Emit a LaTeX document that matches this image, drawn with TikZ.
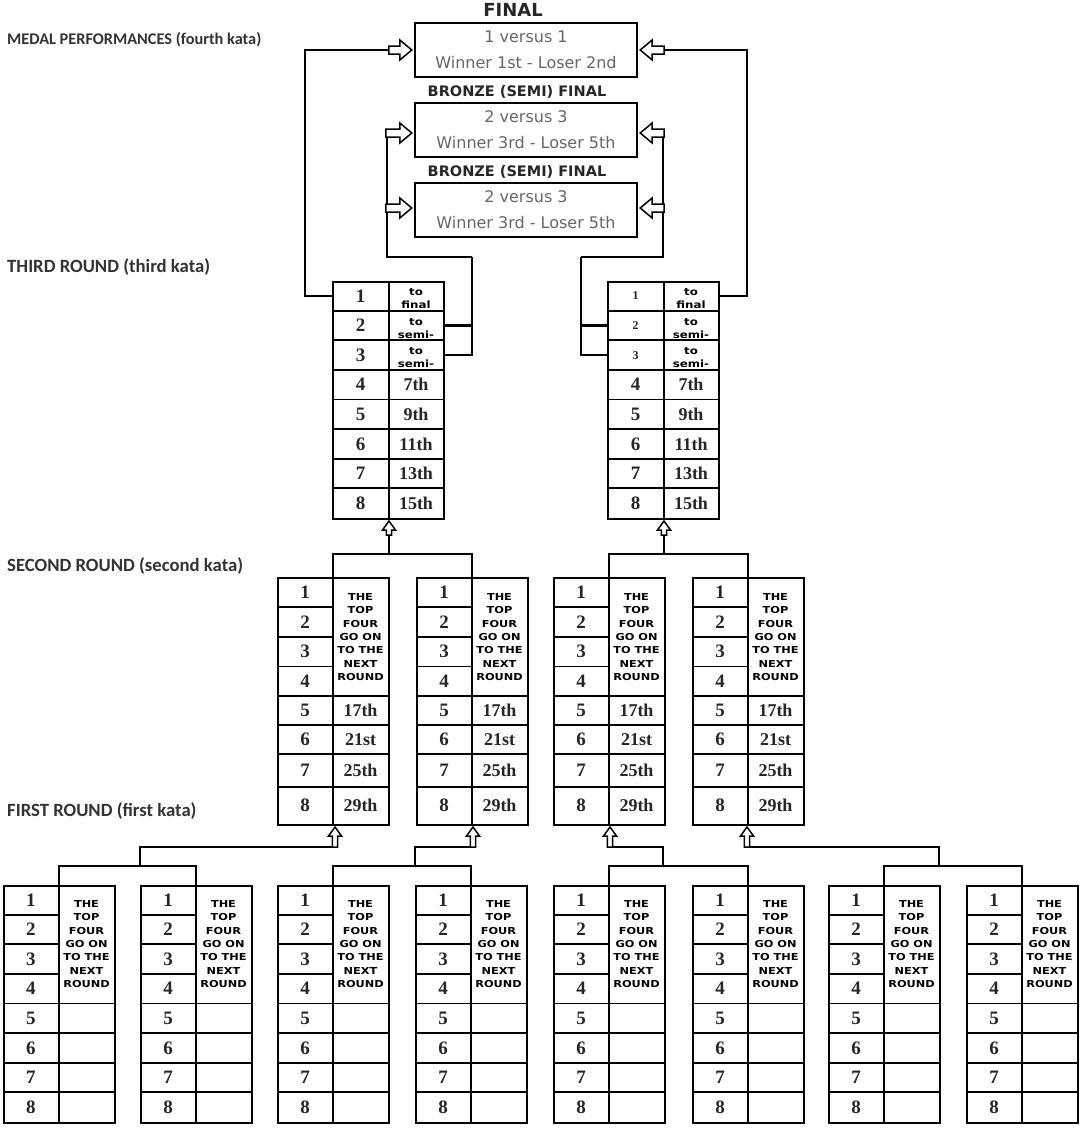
\documentclass[tikz,border=0pt]{standalone}
\usepackage{fontspec}
\setmainfont{Liberation Serif}
\newfontfamily\dvfont{DejaVu Sans}
\newfontfamily\widefont[FakeStretch=1.18]{DejaVu Sans}
\newfontfamily\lblfont{Carlito}
\usetikzlibrary{calc}
\tikzset{
  tframe/.style={draw, line width=2.4pt, minimum width=111pt, inner sep=0pt, anchor=north west},
  tline/.style={line width=1.9pt},
  conn/.style={line width=2.3pt, line join=miter},
  hollow/.style={draw, fill=white, line width=1.5pt, line join=miter},
  num/.style={font=\fontsize{19}{19}\selectfont\bfseries, text=black!85, inner sep=0pt},
  numsm/.style={font=\fontsize{12}{12}\selectfont\bfseries, text=black!85, inner sep=0pt},
  plc/.style={font=\fontsize{18}{18}\selectfont\bfseries, text=black!85, inner sep=0pt},
  topfour/.style={font=\widefont\bfseries\fontsize{9.6}{13.3}\selectfont, align=center, inner sep=0pt, text=black},
  tinytxt/.style={font=\widefont\bfseries\fontsize{10}{13}\selectfont, align=center, inner sep=0pt, text=black},
  lbl/.style={font=\lblfont\bfseries\fontsize{16.3}{16.3}\selectfont, text=black!80, anchor=west, inner sep=0pt},
  lblbig/.style={font=\lblfont\bfseries\fontsize{18.7}{18.7}\selectfont, text=black!80, anchor=west, inner sep=0pt},
  ttl/.style={font=\dvfont\bfseries\fontsize{18}{18}\selectfont, text=black!85, inner sep=0pt},
  sttl/.style={font=\dvfont\bfseries\fontsize{14.5}{14.5}\selectfont, text=black!85, inner sep=0pt},
  matchbox/.style={draw, line width=2.4pt, minimum width=222pt, minimum height=54pt, align=center,
    font=\dvfont\fontsize{16}{26}\selectfont, text=black!60, inner sep=0pt},
  pics/uarr/.style={code={\draw[hollow] (0,0) -- (6.5,9) -- (2.6,9) -- (2.6,#1) -- (-2.6,#1) -- (-2.6,9) -- (-6.5,9) -- cycle;}},
  pics/rarr/.style={code={\draw[hollow] (0,0) -- (-12,-10) -- (-12,-4) -- (-#1,-4) -- (-#1,4) -- (-12,4) -- (-12,10) -- cycle;}},
  pics/larr/.style={code={\draw[hollow] (0,0) -- (12,-10) -- (12,-4) -- (#1,-4) -- (#1,4) -- (12,4) -- (12,10) -- cycle;}},
}
\begin{document}
\begin{tikzpicture}[x=1pt,y=-1pt]
\useasboundingbox (0,0) rectangle (1082,1128);
\fill[white] (0,0) rectangle (1082,1128);

% ---------- left labels ----------
\node[lbl] (l1) at (7,40) {MEDAL PERFORMANCES (fourth kata)};
\node[lblbig] (l2) at (7,267) {THIRD ROUND (third kata)};
\node[lblbig] (l3) at (7,566) {SECOND ROUND (second kata)};
\node[lblbig] (l4) at (7,811) {FIRST ROUND (first kata)};

% ---------- medal boxes ----------
\node[ttl] (ftitle) at (513,10) {FINAL};
\node[matchbox] (final) at (526,50) {1 versus 1\\Winner 1st - Loser 2nd};
\node[sttl] (b1title) at (517,92) {BRONZE (SEMI) FINAL};
\node[matchbox] (semi1) at (526,130) {2 versus 3\\Winner 3rd - Loser 5th};
\node[sttl] (b2title) at (517,172) {BRONZE (SEMI) FINAL};
\node[matchbox] (semi2) at (526,210) {2 versus 3\\Winner 3rd - Loser 5th};

% ---------- third round ----------
\foreach \i/\x in {1/332,2/607}{
  \node[tframe, minimum height=237pt] (T\i) at (\x,281) {};
  \coordinate (T\i-top) at (\x+57,281);
  \coordinate (T\i-bot) at (\x+57,518);
  \coordinate (T\i-r1w) at (\x,295.8);
  \coordinate (T\i-r1e) at (\x+111,295.8);
  \coordinate (T\i-r2w) at (\x,325.5);
  \coordinate (T\i-r2e) at (\x+111,325.5);
  \coordinate (T\i-r3w) at (\x,355.1);
  \coordinate (T\i-r3e) at (\x+111,355.1);
  \draw[tline] (T\i-top) -- (T\i-bot);
  \foreach \y in {310.6,340.3,369.9,399.5,429.1,458.8,488.4}
    \draw[tline] (\x,\y) -- (\x+111,\y);
  \foreach \r/\t/\y in {4/7th/384.7,5/9th/414.3,6/11th/444,7/13th/473.6,8/15th/503.2}{
    \node[num] (T\i-n\r) at (\x+28.5,\y) {\r};
    \node[plc] (T\i-p\r) at (\x+84,\y) {\t};
  }
  \begin{scope}
    \clip (\x+57,281) rectangle (\x+111,310.6);
    \node[tinytxt] (T\i-p1) at (\x+84,299) {to\\final};
  \end{scope}
  \begin{scope}
    \clip (\x+57,310.6) rectangle (\x+111,340.3);
    \node[tinytxt] (T\i-p2) at (\x+84,328.5) {to\\semi-};
  \end{scope}
  \begin{scope}
    \clip (\x+57,340.3) rectangle (\x+111,369.9);
    \node[tinytxt] (T\i-p3) at (\x+84,358) {to\\semi-};
  \end{scope}
}
\foreach \r/\y in {1/295.8,2/325.5,3/355.1}{
  \node[num] (T1-n\r) at (360.5,\y) {\r};
  \node[numsm] (T2-n\r) at (635.5,\y) {\r};
}

% ---------- second round ----------
\foreach \i/\x in {1/277,2/416,3/553,4/692}{
  \node[tframe, minimum height=247pt] (S\i) at (\x,577) {};
  \coordinate (S\i-top) at (\x+56,577);
  \coordinate (S\i-bot) at (\x+56,824);
  \draw[tline] (S\i-top) -- (S\i-bot);
  \foreach \y in {607,637,666.5} \draw[tline] (\x,\y) -- (\x+56,\y);
  \foreach \y in {696,725,754,787} \draw[tline] (\x,\y) -- (\x+111,\y);
  \foreach \r/\y in {1/592,2/622,3/651.5,4/681,5/710.5,6/739.5,7/770.5,8/805.5}
    \node[num] (S\i-n\r) at (\x+28,\y) {\r};
  \foreach \r/\t/\y in {5/17th/710.5,6/21st/739.5,7/25th/770.5,8/29th/805.5}
    \node[plc] (S\i-p\r) at (\x+83.5,\y) {\t};
  \node[topfour] (S\i-txt) at (\x+83.5,637) {THE\\TOP\\FOUR\\GO ON\\TO THE\\NEXT\\ROUND};
}

% ---------- first round ----------
\foreach \i/\x in {1/3,2/140,3/277,4/415,5/553,6/692,7/828,8/966}{
  \node[tframe, minimum height=237pt] (F\i) at (\x,885) {};
  \coordinate (F\i-top) at (\x+56,885);
  \draw[tline] (F\i-top) -- (\x+56,1122);
  \foreach \y in {914.6,944.3,973.9} \draw[tline] (\x,\y) -- (\x+56,\y);
  \foreach \y in {1003.5,1033.1,1062.8,1092.4} \draw[tline] (\x,\y) -- (\x+111,\y);
  \foreach \r/\y in {1/899.8,2/929.4,3/959.1,4/988.7,5/1018.3,6/1048,7/1077.6,8/1107.2}
    \node[num] (F\i-n\r) at (\x+28,\y) {\r};
  \node[topfour] (F\i-txt) at (\x+83.5,944) {THE\\TOP\\FOUR\\GO ON\\TO THE\\NEXT\\ROUND};
}

% ---------- connectors: first -> second ----------
\coordinate (j1) at (140,866);
\coordinate (j2) at (415,866);
\coordinate (j3) at (663,866);
\coordinate (j4) at (939,866);
\draw[conn] (F1-top) |- (j1) -| (F2-top);
\draw[conn] (F3-top) |- (j2) -| (F4-top);
\draw[conn] (F5-top) |- (j3) -| (F6-top);
\draw[conn] (F7-top) |- (j4) -| (F8-top);
\draw[conn] (j1) |- ($(S1-bot)+(2,23)$);
\draw[conn] (j2) |- ($(S2-bot)+(1,23)$);
\draw[conn] (j3) |- ($(S3-bot)+(1,23)$);
\draw[conn] (j4) |- ($(S4-bot)+(-1,23)$);
\pic at ($(S1-bot)+(2,3)$) {uarr=20};
\pic at ($(S2-bot)+(1,3)$) {uarr=20};
\pic at ($(S3-bot)+(1,3)$) {uarr=20};
\pic at ($(S4-bot)+(-1,3)$) {uarr=20};

% ---------- connectors: second -> third ----------
\coordinate (k1) at (389,554);
\coordinate (k2) at (664,554);
\draw[conn] (S1-top) |- (k1) -| (S2-top);
\draw[conn] (S3-top) |- (k2) -| (S4-top);
\draw[conn] (k1) -- ($(T1-bot)+(0,17)$);
\draw[conn] (k2) -- ($(T2-bot)+(0,17)$);
\pic at ($(T1-bot)+(0,3)$) {uarr=14};
\pic at ($(T2-bot)+(0,3)$) {uarr=14};

% ---------- connectors: third -> medals ----------
\coordinate (oL) at (305,50);
\coordinate (oR) at (747,50);
\coordinate (mL) at (472,257);
\coordinate (mR) at (581,257);
\coordinate (vL) at (387,133);
\coordinate (vR) at (663,133);
\coordinate (aL0) at ($(final.west)+(-2,0)$);
\coordinate (aR0) at ($(final.east)+(2,0)$);
\coordinate (aL1) at ($(semi1.west)+(-2,3)$);
\coordinate (aR1) at ($(semi1.east)+(2,3)$);
\coordinate (aL2) at ($(semi2.west)+(-2,-2)$);
\coordinate (aR2) at ($(semi2.east)+(2,-2)$);
\draw[conn] (T1-r1w) -| (oL) -- ($(aL0)+(-23,0)$);
\draw[conn] (T2-r1e) -| (oR) -- ($(aR0)+(24,0)$);
\draw[conn] (T1-r2e) -| (mL);
\draw[conn] (T1-r3e) -| (mL);
\draw[conn] (mL) -| (vL);
\draw[conn] (T2-r2w) -| (mR);
\draw[conn] (T2-r3w) -| (mR);
\draw[conn] (mR) -| (vR);
\pic at (aL0) {rarr=23};
\pic at (aR0) {larr=24};
\pic at (aL1) {rarr=26};
\pic at (aR1) {larr=24};
\pic at (aL2) {rarr=26};
\pic at (aR2) {larr=24};
\end{tikzpicture}
\end{document}
